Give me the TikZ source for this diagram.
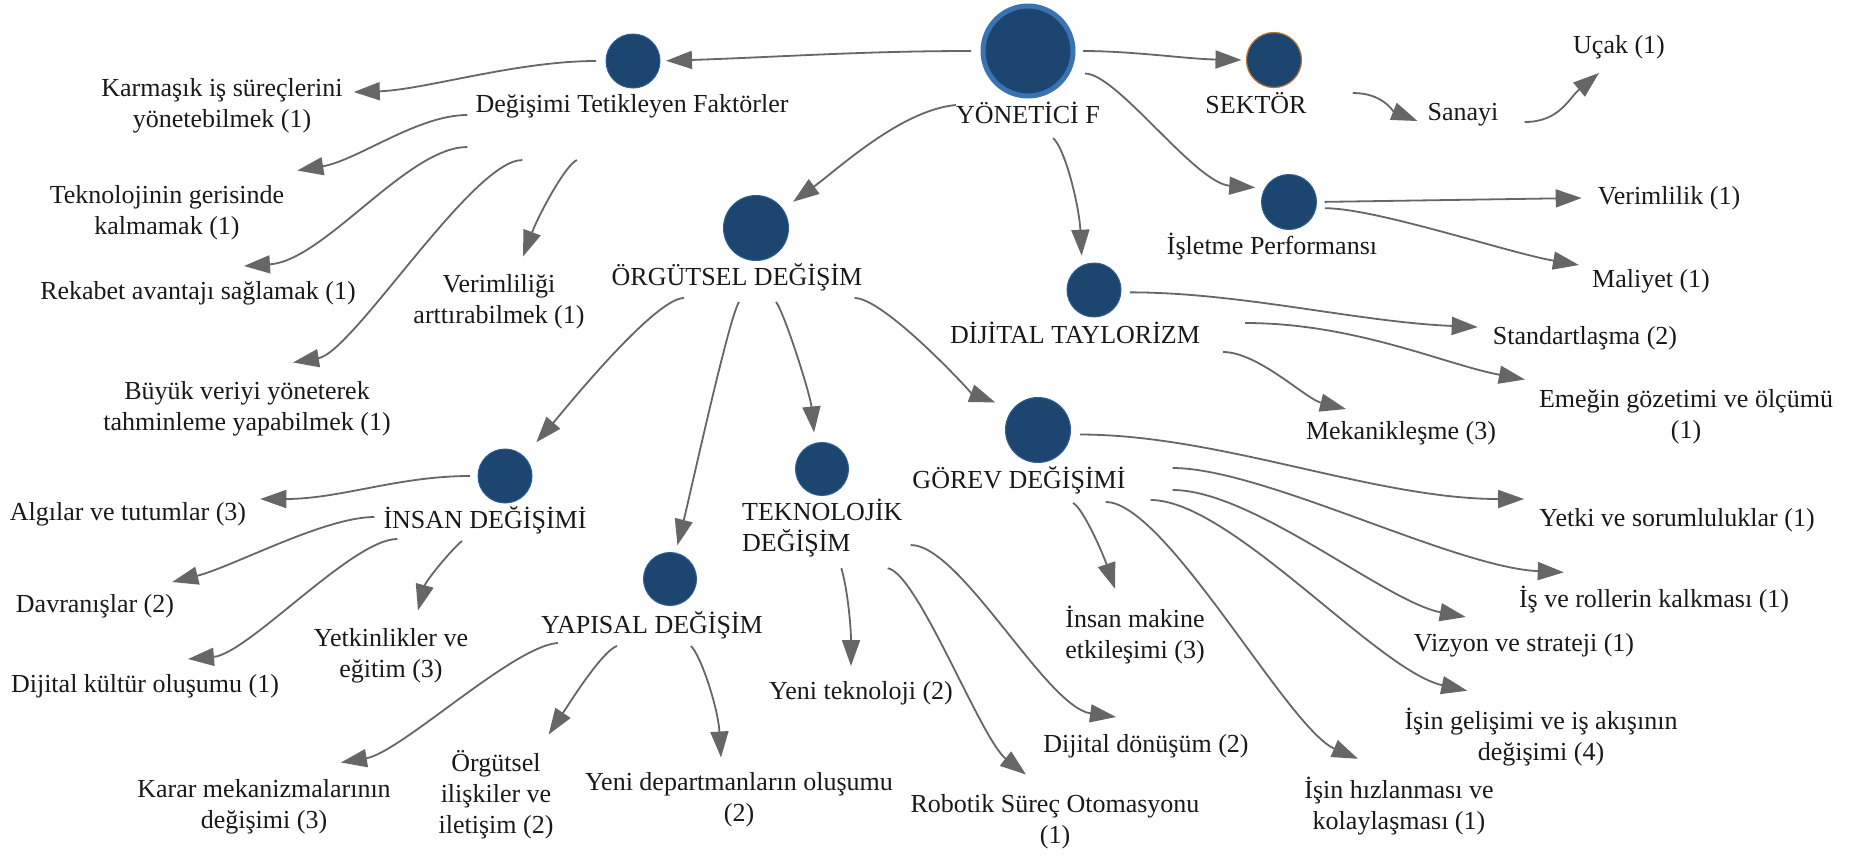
\documentclass[tikz,border=0pt]{standalone}
\usepackage{fontspec}
\setmainfont{Liberation Serif}
\usetikzlibrary{arrows.meta}

\definecolor{hubfill}{HTML}{1C4670}
\definecolor{hubring}{HTML}{2E5F94}
\definecolor{bigring}{HTML}{3A73B3}
\definecolor{sekring}{HTML}{B87333}
\definecolor{linkgray}{HTML}{666666}

\tikzset{
  hub/.style={circle, fill=hubfill, draw=hubring, line width=1pt, inner sep=0pt, outer sep=0pt},
  lbl/.style={font=\fontsize{26}{31}\selectfont, inner sep=0pt, align=center, text=black!90},
  link/.style={draw=linkgray, line width=1.8pt, -{Triangle[length=26pt,width=18pt]}}
}

\begin{document}
\begin{tikzpicture}[x=1pt,y=-1pt]
\useasboundingbox (0,0) rectangle (1854,855);

% hubs
\node[hub, minimum size=90pt, draw=bigring, line width=5pt] (yon) at (1028,51) {};
\node[hub, minimum size=55pt, draw=sekring, line width=1.2pt] (sek) at (1274,60) {};
\node[hub, minimum size=54pt] (deg) at (633,61) {};
\node[hub, minimum size=65pt] (org) at (756,228) {};
\node[hub, minimum size=55pt] (isl) at (1289,202) {};
\node[hub, minimum size=54pt] (dij) at (1094,290) {};
\node[hub, minimum size=65pt] (gor) at (1038,430) {};
\node[hub, minimum size=53pt] (tek) at (822,469) {};
\node[hub, minimum size=53pt] (yap) at (670,579) {};
\node[hub, minimum size=54pt] (ins) at (505,476) {};

% hub names
\node[lbl] (yonT) at (1028,113) {YÖNETİCİ F};
\node[lbl] (sekT) at (1256,103) {SEKTÖR};
\node[lbl] (degT) at (632,106) {Değişimi Tetikleyen Faktörler};
\node[lbl] (orgT) at (737,277) {ÖRGÜTSEL DEĞİŞİM};
\node[lbl] (islT) at (1272,247) {İşletme Performansı};
\node[lbl] (dijT) at (1075,333) {DİJİTAL TAYLORİZM};
\node[lbl] (gorT) at (1019,480) {GÖREV DEĞİŞİMİ};
\node[lbl, align=left, anchor=west] (tekT) at (742,528) {TEKNOLOJİK\\DEĞİŞİM};
\node[lbl] (yapT) at (652,625) {YAPISAL DEĞİŞİM};
\node[lbl] (insT) at (485,520) {İNSAN DEĞİŞİMİ};

% leaves
\node[lbl] (karm) at (222,106) {Karmaşık iş süreçlerini\\yönetebilmek (1)};
\node[lbl] (tekgeri) at (167,213) {Teknolojinin gerisinde\\kalmamak (1)};
\node[lbl] (rek) at (198,293) {Rekabet avantajı sağlamak (1)};
\node[lbl] (verl) at (499,302) {Verimliliği\\arttırabilmek (1)};
\node[lbl] (buyuk) at (247,409) {Büyük veriyi yöneterek\\tahminleme yapabilmek (1)};
\node[lbl] (ucak) at (1619,47) {Uçak (1)};
\node[lbl] (sanayi) at (1463,115) {Sanayi};
\node[lbl] (verim) at (1669,198) {Verimlilik (1)};
\node[lbl] (maliyet) at (1651,281) {Maliyet (1)};
\node[lbl] (stand) at (1585,338) {Standartlaşma (2)};
\node[lbl] (emek) at (1686,417) {Emeğin gözetimi ve ölçümü\\(1)};
\node[lbl] (mekan) at (1401,433) {Mekanikleşme (3)};
\node[lbl] (yetki) at (1677,520) {Yetki ve sorumluluklar (1)};
\node[lbl] (rol) at (1654,600) {İş ve rollerin kalkması (1)};
\node[lbl] (vizyon) at (1524,645) {Vizyon ve strateji (1)};
\node[lbl] (gelisim) at (1541,737) {İşin gelişimi ve iş akışının\\değişimi (4)};
\node[lbl] (hiz) at (1399,806) {İşin hızlanması ve\\kolaylaşması (1)};
\node[lbl] (insmak) at (1135,635) {İnsan makine\\etkileşimi (3)};
\node[lbl] (dijdon) at (1146,746) {Dijital dönüşüm (2)};
\node[lbl] (robot) at (1055,822) {Robotik Süreç Otomasyonu\\(1)};
\node[lbl] (yenitek) at (861,693) {Yeni teknoloji (2)};
\node[lbl] (algi) at (128,514) {Algılar ve tutumlar (3)};
\node[lbl] (davr) at (95,606) {Davranışlar (2)};
\node[lbl] (kultur) at (145,686) {Dijital kültür oluşumu (1)};
\node[lbl] (yetkin) at (391,656) {Yetkinlikler ve\\eğitim (3)};
\node[lbl] (karar) at (264,807) {Karar mekanizmalarının\\değişimi (3)};
\node[lbl] (orgil) at (496,795) {Örgütsel\\ilişkiler ve\\iletişim (2)};
\node[lbl] (yenidep) at (739,800) {Yeni departmanların oluşumu\\(2)};

% top level
\draw[link, shorten <=12pt, shorten >=6pt] (yon.west) .. controls +(-120,0) and +(120,-4) .. (deg.east);
\draw[link, shorten <=10pt, shorten >=5pt] (yon.east) .. controls +(60,0) and +(-60,-1) .. (sek.west);
\draw[link, shorten >=13pt] ([yshift=8pt]yonT.west) .. controls +(-55,5) and +(55,-40) .. (org.35);
\draw[link, shorten >=10pt] ([xshift=25pt,yshift=-14pt]yonT.south) .. controls +(12,10) and +(-3,-60) .. (dij.116);
\draw[link, shorten <=18pt, shorten >=10pt] (yon.-30) .. controls +(50,0) and +(-70,-5) .. (isl.150);
\draw[link] ([xshift=46pt,yshift=10pt]sekT.east) .. controls +(30,0) and +(-25,-10) .. ([xshift=-10pt,yshift=-6pt]sanayi.west);
\draw[link] ([xshift=26pt,yshift=-7pt]sanayi.east) .. controls +(35,0) and +(-30,25) .. ([xshift=26pt,yshift=-26pt]ucak.west);

% Degisimi Tetikleyen Faktorler
\draw[link, shorten <=10pt] (deg.west) .. controls +(-90,0) and +(70,-2) .. ([xshift=11pt,yshift=14pt]karm.east);
\draw[link] ([xshift=-8pt,yshift=-9pt]degT.west) .. controls +(-50,0) and +(60,-10) .. ([xshift=13pt,yshift=15pt]tekgeri.north east);
\draw[link] ([xshift=-8pt,yshift=-41pt]degT.west) .. controls +(-60,0) and +(80,-5) .. ([xshift=46pt,yshift=15pt]rek.north);
\draw[link] ([xshift=47pt,yshift=-42pt]degT.south west) .. controls +(-50,0) and +(60,-10) .. ([xshift=46pt,yshift=19pt]buyuk.north);
\draw[link] ([xshift=-55pt,yshift=-42pt]degT.south) .. controls +(-12,5) and +(15,-40) .. ([xshift=24pt,yshift=18pt]verl.north);

% Orgutsel degisim
\draw[link, shorten >=19pt] ([xshift=-53pt,yshift=-7pt]orgT.south) .. controls +(-30,0) and +(35,-40) .. (ins.46);
\draw[link, shorten >=8pt] ([xshift=2pt,yshift=-11pt]orgT.south) .. controls +(-10,15) and +(15,-60) .. (yap.78);
\draw[link, shorten >=11pt] ([xshift=39pt,yshift=-11pt]orgT.south) .. controls +(8,10) and +(-5,-50) .. (tek.105);
\draw[link, shorten >=19pt] ([xshift=-8pt,yshift=-7pt]orgT.south east) .. controls +(30,0) and +(-40,-15) .. (gor.140);

% Dijital Taylorizm, Isletme Performansi
\draw[link, shorten <=9pt] (dij.-5) .. controls +(120,0) and +(-120,-5) .. ([xshift=-15pt,yshift=11pt]stand.west);
\draw[link] ([xshift=45pt,yshift=10pt]dijT.east) .. controls +(110,0) and +(-80,-15) .. ([xshift=-14pt,yshift=10pt]emek.north west);
\draw[link] ([xshift=23pt,yshift=-19pt]dijT.east) .. controls +(35,0) and +(-40,-10) .. ([xshift=-55pt,yshift=12pt]mekan.north);
\draw[link, shorten <=8pt] (isl.east) -- ([xshift=-16pt]verim.west);
\draw[link, shorten <=9pt] (isl.-13) .. controls +(60,0) and +(-70,-12) .. ([xshift=-13pt,yshift=16pt]maliyet.west);

% Gorev degisimi
\draw[link, shorten <=10pt] (gor.-8) .. controls +(150,0) and +(-150,0) .. ([xshift=-15pt,yshift=9pt]yetki.north west);
\draw[link] ([xshift=47pt,yshift=12pt]gorT.east) .. controls +(90,0) and +(-110,-5) .. ([xshift=45pt,yshift=14pt]rol.north west);
\draw[link] ([xshift=47pt,yshift=-10pt]gorT.east) .. controls +(80,0) and +(-80,-15) .. ([xshift=52pt,yshift=16pt]vizyon.north west);
\draw[link] ([xshift=25pt,yshift=-20pt]gorT.east) .. controls +(80,0) and +(-90,-20) .. ([xshift=63pt,yshift=17pt]gelisim.north west);
\draw[link] ([xshift=-20pt,yshift=-22pt]gorT.east) .. controls +(60,0) and +(-70,-30) .. ([xshift=-41pt,yshift=18pt]hiz.north);
\draw[link] ([xshift=54pt,yshift=-9pt]gorT.south) .. controls +(10,5) and +(-12,-35) .. ([xshift=-20pt,yshift=17pt]insmak.north);

% Teknolojik degisim
\draw[link] ([xshift=8pt,yshift=-17pt]tekT.east) .. controls +(50,0) and +(-70,-10) .. ([xshift=-30pt,yshift=17pt]dijdon.north);
\draw[link] ([xshift=-15pt,yshift=-11pt]tekT.south east) .. controls +(30,5) and +(-45,-35) .. ([xshift=-29pt,yshift=20pt]robot.north);
\draw[link] ([xshift=19pt,yshift=-11pt]tekT.south) .. controls +(6,20) and +(0,-40) .. ([xshift=-10pt,yshift=15pt]yenitek.north);

% Insan degisimi
\draw[link, shorten <=8pt] (ins.west) .. controls +(-80,0) and +(80,0) .. ([xshift=14pt,yshift=15pt]algi.east);
\draw[link] ([xshift=-9pt,yshift=3pt]insT.west) .. controls +(-50,0) and +(60,-15) .. ([xshift=-2pt,yshift=12pt]davr.north east);
\draw[link] ([xshift=14pt,yshift=-5pt]insT.south west) .. controls +(-45,0) and +(60,-5) .. ([xshift=43pt,yshift=15pt]kultur.north);
\draw[link] ([xshift=-23pt,yshift=-7pt]insT.south) .. controls +(-10,8) and +(8,-30) .. ([xshift=27pt,yshift=18pt]yetkin.north);

% Yapisal degisim
\draw[link] ([xshift=17pt,yshift=-4pt]yapT.south west) .. controls +(-45,3) and +(60,-10) .. ([xshift=-50pt,yshift=17pt]karar.north east);
\draw[link] ([xshift=-35pt,yshift=-7pt]yapT.south) .. controls +(-15,5) and +(20,-30) .. ([xshift=-5pt,yshift=16pt]orgil.north east);
\draw[link] ([xshift=39pt,yshift=-7pt]yapT.south) .. controls +(10,10) and +(-3,-50) .. ([xshift=-18pt,yshift=15pt]yenidep.north);

\end{tikzpicture}
\end{document}
